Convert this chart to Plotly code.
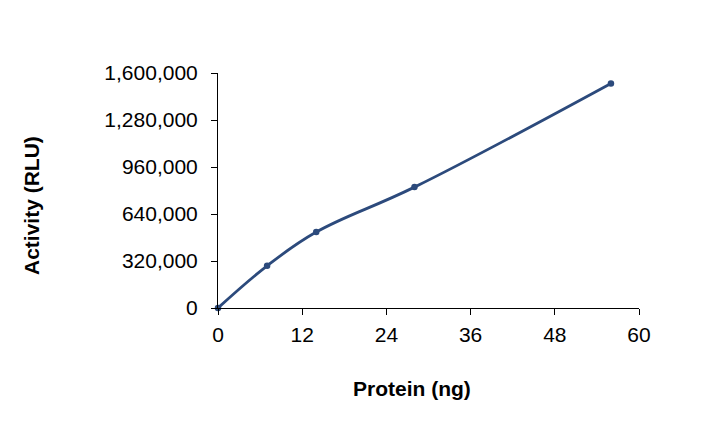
import plotly.graph_objects as go

protein_ng = [0, 7, 14, 28, 56]
activity_rlu = [0, 287000, 517000, 823000, 1529000]
x_ticks = [0, 12, 24, 36, 48, 60]
y_ticks = [0, 320000, 640000, 960000, 1280000, 1600000]

color = "#2C4A7C"
fig = go.Figure()
fig.add_trace(go.Scatter(
    x=protein_ng, y=activity_rlu, mode="lines+markers",
    line=dict(color=color, width=2.8, shape="spline", smoothing=1.1),
    marker=dict(color=color, size=6.5),
    cliponaxis=False, showlegend=False,
))

# page body has an 8px margin, so pixel targets are shifted by 8
OFF = 8
L, R, T, B = 218 - OFF, 73, 73 - OFF, 134
font = dict(family="Liberation Sans, Arial, sans-serif", size=21, color="#000000")
fig.update_layout(
    width=704, height=434,
    margin=dict(l=L, r=R, t=T, b=B),
    paper_bgcolor="white", plot_bgcolor="white",
    font=font,
    xaxis=dict(range=[0, 60], tickvals=x_ticks, ticks="outside", ticklen=6,
               tickcolor="black", showline=True, linecolor="black", linewidth=1,
               showgrid=False, zeroline=False, tickfont=font, ticklabelstandoff=2),
    yaxis=dict(range=[0, 1600000], tickvals=y_ticks, tickformat=",d",
               ticks="outside", ticklen=6, tickcolor="black", showline=True,
               linecolor="black", linewidth=1, showgrid=False, zeroline=False,
               tickfont=font, ticklabelstandoff=9),
    annotations=[
        dict(text="<b>Protein (ng)</b>", x=412 - OFF, y=388 - OFF, xref="paper", yref="paper",
             showarrow=False, font=font, xanchor="center", yanchor="middle"),
        dict(text="<b>Activity (RLU)</b>", x=31 - OFF, y=206 - OFF, xref="paper", yref="paper",
             showarrow=False, font=font, textangle=-90, xanchor="center", yanchor="middle"),
    ],
)
# convert pixel positions to paper coordinates
pw, ph = 704 - L - R, 434 - T - B
for a in fig.layout.annotations:
    a.x = (a.x - L) / pw
    a.y = (434 - B - a.y) / ph

fig.write_html("out.html")
